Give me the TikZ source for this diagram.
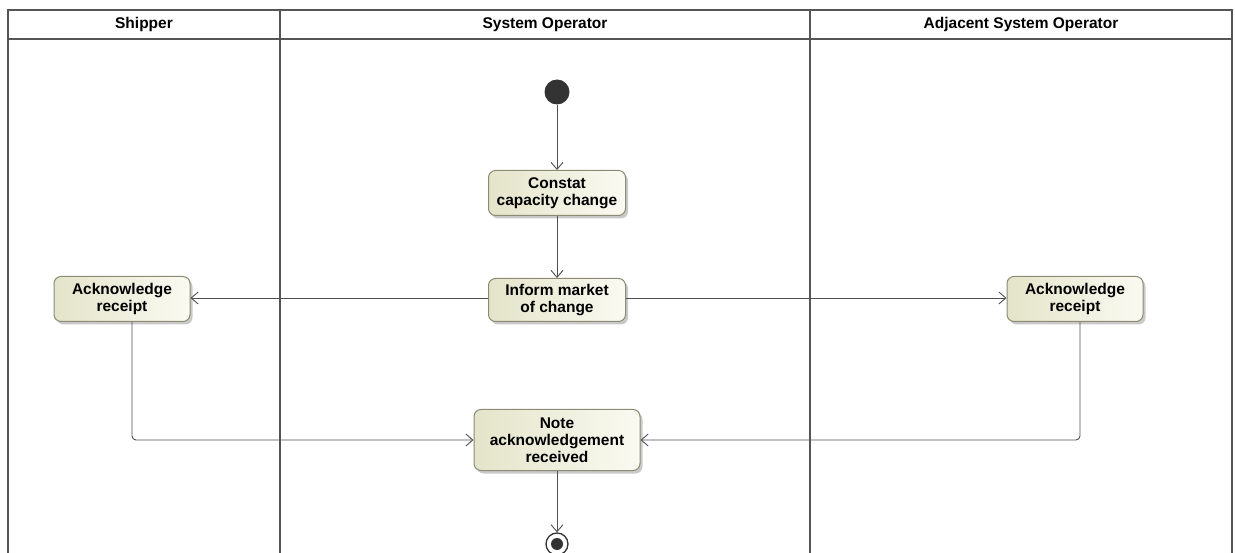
\documentclass[tikz,border=0pt]{standalone}
\usepackage{fontspec}
\setmainfont{Liberation Sans}
\usetikzlibrary{arrows.meta,shadows,calc}
\definecolor{lanecol}{HTML}{555555}
\definecolor{edgecol}{HTML}{505050}
\definecolor{boxborder}{HTML}{8C8C74}
\definecolor{boxdark}{HTML}{E4E4CA}
\definecolor{boxlight}{HTML}{FAFAF2}
\tikzset{
  lane/.style={draw=lanecol, line width=2.4pt},
  actbox/.style={draw=boxborder, line width=1pt, rounded corners=7pt,
    left color=boxdark, right color=boxlight,
    drop shadow={shadow xshift=2.5pt, shadow yshift=-3pt, fill=black!35, opacity=0.6},
    align=center, font=\bfseries\fontsize{15.5}{17}\selectfont, inner sep=1pt},
  flow/.style={draw=edgecol, line width=0.9pt, -{Straight Barb[length=7pt,width=12pt,line width=0.9pt]}},
  hdr/.style={font=\bfseries\fontsize{15.5}{17}\selectfont, anchor=base},
}
\begin{document}
\begin{tikzpicture}[x=1pt,y=-1pt]
\useasboundingbox[fill=white] (0,0) rectangle (1235,553);
% swimlane frame
\draw[lane] (8,580) -- (8,10) -- (1232,10) -- (1232,580);
\draw[lane] (8,39) -- (1232,39);
\draw[lane] (280,10) -- (280,580);
\draw[lane] (810,10) -- (810,580);
\node[hdr] (h1) at (144,29) {Shipper};
\node[hdr] (h2) at (545,29) {System Operator};
\node[hdr] (h3) at (1021,29) {Adjacent System Operator};
% nodes
\node[circle, fill=black!80, minimum size=25pt, inner sep=0pt] (init) at (557,92) {};
\node[actbox, minimum width=137pt, minimum height=45pt] (constat) at (557,193) {Constat\\capacity change};
\node[actbox, minimum width=137pt, minimum height=43pt] (inform) at (557,300) {Inform market\\of change};
\node[actbox, minimum width=136pt, minimum height=45pt] (ackL) at (122,299) {Acknowledge\\receipt};
\node[actbox, minimum width=136pt, minimum height=45pt] (ackR) at (1075,299) {Acknowledge\\receipt};
\node[actbox, minimum width=166pt, minimum height=61pt] (note) at (557,440) {Note\\acknowledgement\\received};
\node[circle, draw=black!80, line width=1.3pt, fill=white, minimum size=22pt, inner sep=0pt] (final) at (557,544) {};
\node[circle, fill=black!80, minimum size=12pt, inner sep=0pt] (finalin) at (final.center) {};
\coordinate (cL) at (132,0);
\coordinate (cR) at (1080,0);
% edges
\draw[flow] (init) -- (constat);
\draw[flow] (constat) -- (inform);
\draw[flow] (inform.west |- 0,298) -- (ackL.east |- 0,298);
\draw[flow] (inform.east |- 0,298) -- (ackR.west |- 0,298);
\draw[flow, rounded corners=4pt] (ackL.south -| cL) |- (note.west);
\draw[flow, rounded corners=4pt] (ackR.south -| cR) |- (note.east);
\draw[flow] (note) -- (final);
\end{tikzpicture}
\end{document}
